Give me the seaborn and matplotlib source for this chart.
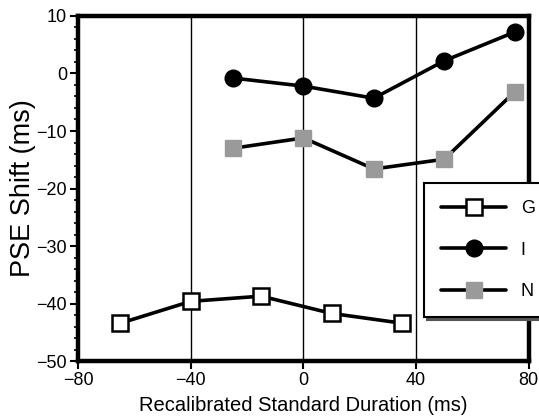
import numpy as np
import pandas as pd
import matplotlib
matplotlib.use("Agg")
import matplotlib.pyplot as plt
import seaborn as sns

# values
g_x = [-65, -40, -15, 10, 35]
g_y = [-43.4, -39.6, -38.7, -41.7, -43.4]
i_x = [-25, 0, 25, 50, 75]
i_y = [-0.8, -2.2, -4.3, 2.2, 7.2]
n_x = [-25, 0, 25, 50, 75]
n_y = [-13.0, -11.2, -16.6, -14.9, -3.2]

x_ticks = [-80, -40, 0, 40, 80]
y_ticks = [-50, -40, -30, -20, -10, 0, 10]

df = pd.concat([
    pd.DataFrame({"x": g_x, "y": g_y, "cond": "G"}),
    pd.DataFrame({"x": i_x, "y": i_y, "cond": "I"}),
    pd.DataFrame({"x": n_x, "y": n_y, "cond": "N"}),
])

sns.set_style("white")
plt.rcParams["font.family"] = ["Liberation Sans", "DejaVu Sans"]
plt.rcParams["text.color"] = "black"
plt.rcParams["axes.labelcolor"] = "black"
plt.rcParams["xtick.color"] = "black"
plt.rcParams["ytick.color"] = "black"

fig = plt.figure(figsize=(5.39, 4.19), dpi=100)
ax = fig.add_axes([0.145, 0.138, 0.836, 0.824])

styles = {
    "G": dict(marker="s", mfc="white", mec="black", mew=1.8),
    "I": dict(marker="o", mfc="black", mec="black", mew=1.0),
    "N": dict(marker="s", mfc="#9a9a9a", mec="#9a9a9a", mew=1.0),
}
for cond, st in styles.items():
    sub = df[df["cond"] == cond]
    sns.lineplot(data=sub, x="x", y="y", ax=ax, color="black", lw=2.6,
                 marker=st["marker"], markersize=12, markerfacecolor=st["mfc"],
                 markeredgecolor=st["mec"], markeredgewidth=st["mew"],
                 label=cond, zorder=3)

for xv in [-40, 0, 40]:
    ax.axvline(xv, color="black", lw=1.0, zorder=1)

ax.set_xlim(-80, 80)
ax.set_ylim(-50, 10)
ax.set_xticks(x_ticks)
ax.set_yticks(y_ticks)
ax.set_yticks(np.arange(-50, 11, 2), minor=True)
ax.tick_params(axis="both", which="major", direction="out", length=6, width=1.5,
               labelsize=13, left=True, bottom=True, pad=2, colors="black")
ax.tick_params(axis="y", which="minor", direction="out", length=3, width=1.2,
               left=True, colors="black")
for s in ax.spines.values():
    s.set_linewidth(3.2)
    s.set_color("black")

ax.set_xlabel("Recalibrated Standard Duration (ms)", fontsize=14.5, labelpad=5,
              color="black")
ax.set_ylabel("PSE Shift (ms)", fontsize=19.5, labelpad=0, color="black")

leg = ax.legend(loc="upper left", bbox_to_anchor=(0.787, 0.563),
                bbox_transform=fig.transFigure, frameon=True, fancybox=False,
                shadow={"color": "#555555", "alpha": 1.0}, edgecolor="black",
                fontsize=13, handlelength=3.6, labelspacing=1.35,
                borderpad=0.95, handletextpad=0.8, borderaxespad=0)
leg.get_frame().set_linewidth(1.5)
for t in leg.get_texts():
    t.set_color("black")

fig.savefig("out.png", dpi=100)
